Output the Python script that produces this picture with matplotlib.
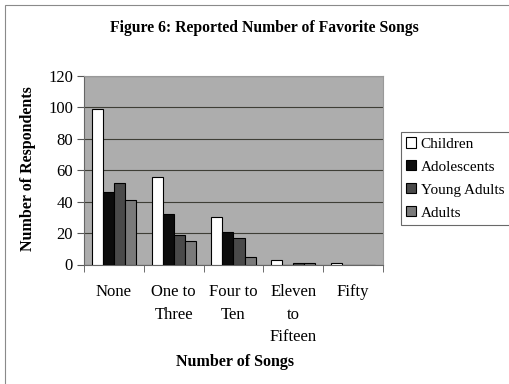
import matplotlib
matplotlib.use("Agg")
import matplotlib.pyplot as plt
import numpy as np
from matplotlib.patches import Rectangle

plt.rcParams['font.family'] = ['Liberation Serif', 'DejaVu Serif']

categories = ["None", "One to\nThree", "Four to\nTen", "Eleven\nto\nFifteen", "Fifty"]
series_names = ["Children", "Adolescents", "Young Adults", "Adults"]
children = [99, 56, 30, 3, 1]
adolescents = [46, 32, 21, 0, 0]
young_adults = [52, 19, 17, 1, 0]
adults = [41, 15, 5, 1, 0]
y_ticks = [0, 20, 40, 60, 80, 100, 120]

series = [children, adolescents, young_adults, adults]
colors = ["#ffffff", "#0c0c0c", "#4a4a4a", "#7a7a7a"]

fig = plt.figure(figsize=(5.1, 3.84), dpi=100)
fig.patch.set_facecolor("white")

# outer chart frame
fig.add_artist(Rectangle((5 / 510, -0.1), 1.2, 1 - 5 / 384 + 0.1,
                         transform=fig.transFigure, fill=False,
                         edgecolor="#8a8a8a", linewidth=0.8))

ax = fig.add_axes([84 / 510, 1 - 264.5 / 384, (383 - 84) / 510, (264.5 - 76) / 384])
ax.set_facecolor("#adadad")

x = np.arange(len(categories))
w = 0.185
for i, (vals, c) in enumerate(zip(series, colors)):
    ax.bar(x + (i - 1.5) * w, vals, width=w, color=c, edgecolor="black",
           linewidth=0.8, label=series_names[i], zorder=3)

ax.set_xlim(-0.5, len(categories) - 0.5)
ax.set_ylim(0, 120)
ax.set_yticks(y_ticks)
ax.yaxis.grid(True, color="#3e3e36", linewidth=0.8, zorder=1)
ax.set_axisbelow(True)

ax.set_xticks(x)
ax.set_xticklabels(categories, fontsize=12, linespacing=1.55, va="top")
ax.set_xticks(np.arange(-0.5, len(categories), 1), minor=True)
ax.tick_params(axis="x", which="major", length=0, pad=14)
ax.tick_params(axis="x", which="minor", length=5, color="#555555")
ax.tick_params(axis="y", length=5, color="#555555", labelsize=12, pad=3)

for s in ["left", "bottom"]:
    ax.spines[s].set_color("#666666")
for s in ["top", "right"]:
    ax.spines[s].set_color("#999999")

ax.set_ylabel("Number of Respondents", fontsize=11.5, fontweight="bold")
ax.yaxis.set_label_coords(-0.16, 0.51)

fig.text(264 / 510, 1 - 28 / 384, "Figure 6: Reported Number of Favorite Songs",
         ha="center", va="center", fontsize=11.3, fontweight="bold")
fig.text(235 / 510, 1 - 362 / 384, "Number of Songs",
         ha="center", va="center", fontsize=11.5, fontweight="bold")

leg = fig.legend(loc="upper left", bbox_to_anchor=(401 / 510, 1 - 132 / 384),
                 fontsize=11, frameon=True, fancybox=False, edgecolor="#444444",
                 handlelength=0.65, handleheight=0.65, handletextpad=0.3,
                 labelspacing=0.62, borderpad=0.35, borderaxespad=0)
leg.get_frame().set_linewidth(0.8)

fig.savefig("out.png", dpi=100, facecolor="white")
